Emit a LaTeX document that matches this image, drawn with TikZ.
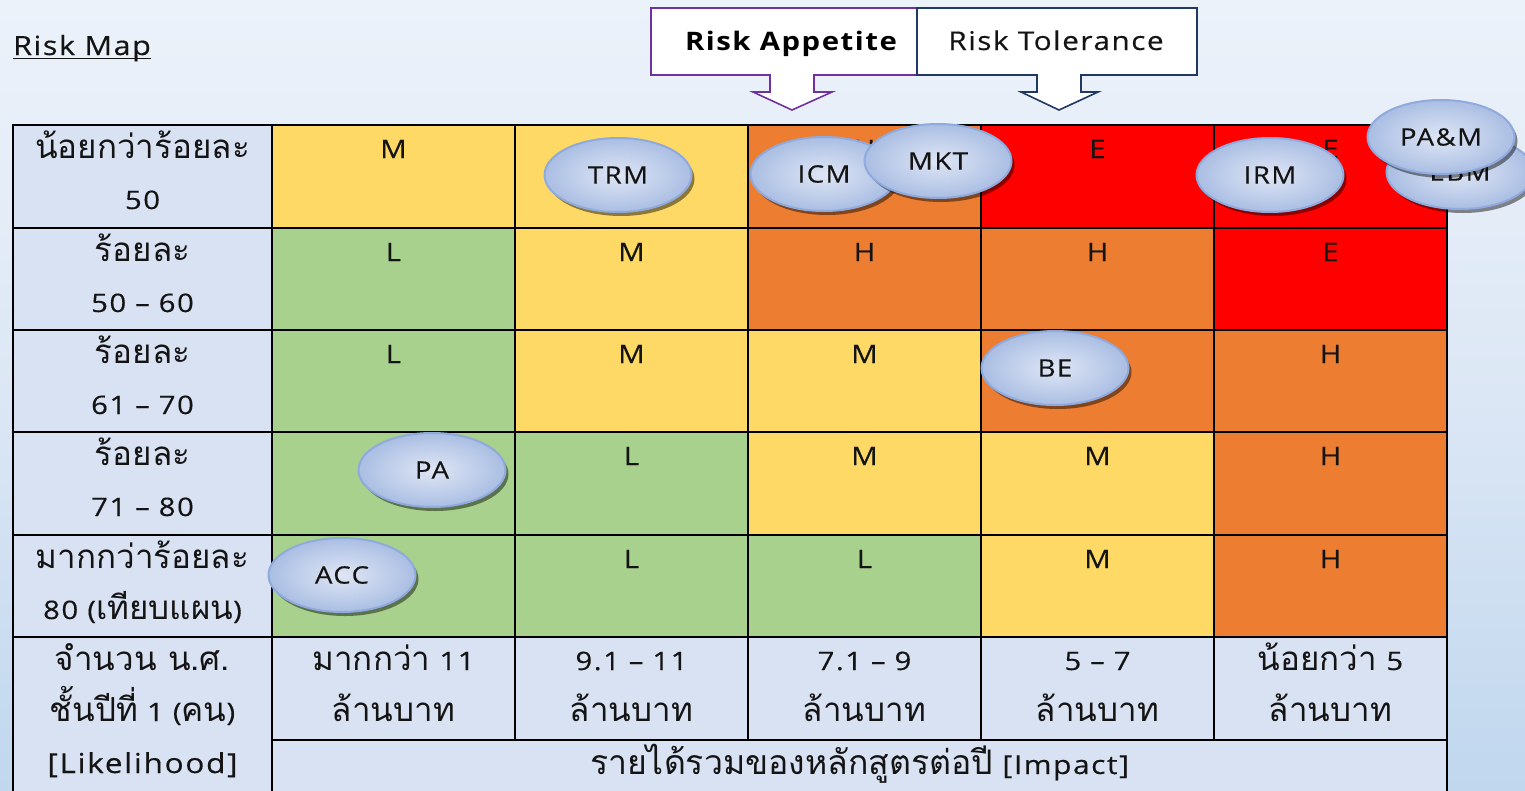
\documentclass[tikz,border=0pt]{standalone}
\usepackage{fontspec}
\setmainfont{Open Sans}[FakeStretch=1.15,LetterSpace=6,UprightFeatures={FakeBold=0.35}]
\newfontfamily\thfont[Script=Thai,Scale=1.3]{Loma}
\usetikzlibrary{shapes.geometric,shadows}
\definecolor{cY}{HTML}{FFD966}
\definecolor{cG}{HTML}{A9D18E}
\definecolor{cO}{HTML}{ED7D31}
\definecolor{cR}{HTML}{FF0000}
\definecolor{cLab}{HTML}{D9E2F3}
\definecolor{apPurple}{HTML}{7030A0}
\definecolor{tolNavy}{HTML}{1F3864}
\definecolor{bubLine}{HTML}{8FAADC}
\definecolor{bubIn}{HTML}{DFE6F5}
\definecolor{bubOut}{HTML}{AABEE3}
\definecolor{bgTop}{HTML}{ECF2FA}
\definecolor{bgMid}{HTML}{DCE7F5}
\definecolor{bgBot}{HTML}{C0D7EE}
\definecolor{txt}{HTML}{141414}
\newcommand\cellnode[6]{\node[gridcell, fill=#6, minimum width={(#4-#2)*1pt}, minimum height={(#5-#3)*1pt}] (#1) at ({(#2+#4)/2},{(#3+#5)/2}) {};}
\newcommand\onel[4]{\node[lab] (#1) at (#2,#3) {#4};}
\newcommand\twol[5]{\node[lab] (#1a) at (#2,#3) {#4};\node[lab] (#1b) at (#2,#3+51) {#5};}
\newcommand\dsh{\hspace{0.35em}–\hspace{0.35em}}
\begin{document}
\begin{tikzpicture}[x=1pt,y=-1pt,
  gridcell/.style={draw=black, line width=2.6pt, inner sep=0pt, outer sep=0pt},
  lab/.style={font=\fontsize{25.5}{27}\selectfont, text=txt, inner sep=0pt, anchor=base},
  bubble/.style={ellipse, draw=bubLine, line width=2pt, minimum width=147pt, minimum height=74pt,
     inner sep=0pt, inner color=bubIn, outer color=bubOut,
     drop shadow={shadow xshift=3pt, shadow yshift=-4pt, opacity=0.45, fill=black},
     font=\fontsize{24}{26}\selectfont, text=txt},
  callout/.style={fill=white, line width=1.6pt, line join=miter}
]
\useasboundingbox (0,0) rectangle (1525,790);
\clip (0,0) rectangle (1525,790);
\shade[top color=bgTop, bottom color=bgBot, middle color=bgMid] (0,0) rectangle (1525,790);

% title
\node[font=\fontsize{26.5}{28}\selectfont, text=txt, inner sep=0pt, anchor=base west] (title) at (13,55) {Risk Map};
\draw[line width=1.6pt, txt] ([yshift=-3.5pt]title.base west) -- ([yshift=-3.5pt]title.base east);

% callouts
\path[callout, draw=apPurple] (651,8) -- (917,8) -- (917,75) -- (814,75) -- (814,92) -- (832,92) -- (792,110) -- (753,92) -- (770,92) -- (770,75) -- (651,75) -- cycle;
\path[callout, draw=tolNavy] (917,8) -- (1197,8) -- (1197,75) -- (1081,75) -- (1081,92) -- (1098,92) -- (1059,110) -- (1021,92) -- (1037,92) -- (1037,75) -- (917,75) -- cycle;
\node[font=\fontsize{25.5}{27}\selectfont\bfseries, text=black, inner sep=0pt, anchor=base] (app) at (791,50) {Risk Appetite};
\node[font=\fontsize{25.8}{27}\selectfont, text=txt, inner sep=0pt, anchor=base] (tol) at (1056,50) {Risk Tolerance};

% left label column
\cellnode{L1}{13}{125}{272}{228}{cLab}
\cellnode{L2}{13}{228}{272}{330}{cLab}
\cellnode{L3}{13}{330}{272}{432}{cLab}
\cellnode{L4}{13}{432}{272}{535}{cLab}
\cellnode{L5}{13}{535}{272}{637}{cLab}
\cellnode{L6}{13}{637}{272}{805}{cLab}
% row 1
\cellnode{A11}{272}{125}{515}{228}{cY}
\cellnode{A12}{515}{125}{748}{228}{cY}
\cellnode{A13}{748}{125}{981}{228}{cO}
\cellnode{A14}{981}{125}{1214}{228}{cR}
\cellnode{A15}{1214}{125}{1447}{228}{cR}
% row 2
\cellnode{A21}{272}{228}{515}{330}{cG}
\cellnode{A22}{515}{228}{748}{330}{cY}
\cellnode{A23}{748}{228}{981}{330}{cO}
\cellnode{A24}{981}{228}{1214}{330}{cO}
\cellnode{A25}{1214}{228}{1447}{330}{cR}
% row 3
\cellnode{A31}{272}{330}{515}{432}{cG}
\cellnode{A32}{515}{330}{748}{432}{cY}
\cellnode{A33}{748}{330}{981}{432}{cY}
\cellnode{A34}{981}{330}{1214}{432}{cO}
\cellnode{A35}{1214}{330}{1447}{432}{cO}
% row 4
\cellnode{A41}{272}{432}{515}{535}{cG}
\cellnode{A42}{515}{432}{748}{535}{cG}
\cellnode{A43}{748}{432}{981}{535}{cY}
\cellnode{A44}{981}{432}{1214}{535}{cY}
\cellnode{A45}{1214}{432}{1447}{535}{cO}
% row 5
\cellnode{A51}{272}{535}{515}{637}{cG}
\cellnode{A52}{515}{535}{748}{637}{cG}
\cellnode{A53}{748}{535}{981}{637}{cG}
\cellnode{A54}{981}{535}{1214}{637}{cY}
\cellnode{A55}{1214}{535}{1447}{637}{cO}
% impact row
\cellnode{B1}{272}{637}{515}{740}{cLab}
\cellnode{B2}{515}{637}{748}{740}{cLab}
\cellnode{B3}{748}{637}{981}{740}{cLab}
\cellnode{B4}{981}{637}{1214}{740}{cLab}
\cellnode{B5}{1214}{637}{1447}{740}{cLab}
\cellnode{B6}{272}{740}{1447}{805}{cLab}

% row labels
\twol{r1}{142.5}{158}{\thfont น้อยกว่าร้อยละ}{50}
\twol{r2}{142.5}{261}{\thfont ร้อยละ}{50\dsh 60}
\twol{r3}{142.5}{363}{\thfont ร้อยละ}{61\dsh 70}
\twol{r4}{142.5}{465}{\thfont ร้อยละ}{71\dsh 80}
\twol{r5}{142.5}{568}{\thfont มากกว่าร้อยละ}{80 ({\thfont เทียบแผน})}
\twol{r6}{142.5}{670}{\thfont จำนวน น.ศ.}{{\thfont ชั้นปีที่} 1 ({\thfont คน})}
\node[lab, font=\fontsize{27.5}{30}\selectfont] (r6c) at (142.5,773) {[Likelihood]};

% impact labels
\twol{i1}{393.5}{670}{{\thfont มากกว่า} 11}{\thfont ล้านบาท}
\twol{i2}{631.5}{670}{9.1\dsh 11}{\thfont ล้านบาท}
\twol{i3}{864.5}{670}{7.1\dsh 9}{\thfont ล้านบาท}
\twol{i4}{1097.5}{670}{5\dsh 7}{\thfont ล้านบาท}
\twol{i5}{1330.5}{670}{{\thfont น้อยกว่า} 5}{\thfont ล้านบาท}
\node[lab, font=\fontsize{26}{28}\selectfont] (imp) at (859.5,774) {{\thfont รายได้รวมของหลักสูตรต่อปี} [Impact]};

% cell letters
\onel{t11}{393.5}{158}{M}
\onel{t13}{864.5}{158}{H}
\onel{t14}{1097.5}{158}{E}
\onel{t15}{1330.5}{158}{E}
\onel{t21}{393.5}{261}{L}
\onel{t22}{631.5}{261}{M}
\onel{t23}{864.5}{261}{H}
\onel{t24}{1097.5}{261}{H}
\onel{t25}{1330.5}{261}{E}
\onel{t31}{393.5}{363}{L}
\onel{t32}{631.5}{363}{M}
\onel{t33}{864.5}{363}{M}
\onel{t35}{1330.5}{363}{H}
\onel{t42}{631.5}{465}{L}
\onel{t43}{864.5}{465}{M}
\onel{t44}{1097.5}{465}{M}
\onel{t45}{1330.5}{465}{H}
\onel{t52}{631.5}{568}{L}
\onel{t53}{864.5}{568}{L}
\onel{t54}{1097.5}{568}{M}
\onel{t55}{1330.5}{568}{H}

% bubbles
\node[bubble] (TRM) at (618,175) {TRM};
\node[bubble] (ICM) at (824,174) {ICM};
\node[bubble] (MKT) at (938,161) {MKT};
\node[bubble] (IRM) at (1270,175) {IRM};
\node[bubble] (EBM) at (1460,172) {EBM};
\node[bubble] (PAM) at (1441,137) {PA\&M};
\node[bubble] (BE) at (1055,368) {BE};
\node[bubble] (PA) at (432,470) {PA};
\node[bubble] (ACC) at (342,575) {ACC};
\end{tikzpicture}
\end{document}
